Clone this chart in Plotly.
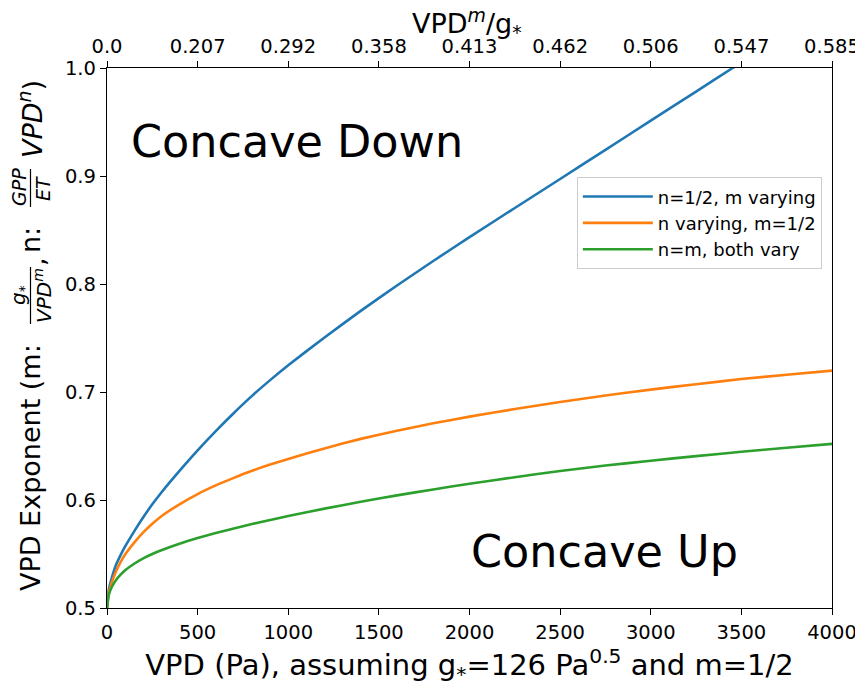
import plotly.graph_objects as go

# ---- data ----
vpd_blue = [0, 10, 25, 50, 75, 100, 150, 200, 250, 300, 400, 500, 600, 700, 800, 900, 1000, 1200,
            1400, 1600, 1800, 2000, 2250, 2500, 2750, 3000, 3250, 3450, 3500]
m_vary = [0.5, 0.517, 0.527, 0.540, 0.549, 0.557, 0.571, 0.584, 0.596, 0.607, 0.627, 0.646, 0.6638,
          0.6806, 0.6964, 0.7110, 0.7248, 0.7505, 0.7751, 0.7986, 0.8213, 0.8434, 0.8704, 0.8972,
          0.9242, 0.9512, 0.9782, 0.9998, 1.0052]

vpd_all = [0, 10, 25, 50, 75, 100, 150, 200, 250, 300, 400, 500, 600, 700, 800, 900, 1000, 1200,
           1400, 1600, 1800, 2000, 2250, 2500, 2750, 3000, 3250, 3500, 3750, 4000]
n_vary = [0.5, 0.514, 0.523, 0.534, 0.5425, 0.5495, 0.5605, 0.570, 0.578, 0.585, 0.596, 0.6055,
          0.6135, 0.6205, 0.627, 0.6328, 0.638, 0.6478, 0.6566, 0.6642, 0.6710, 0.6772, 0.6842,
          0.6907, 0.6967, 0.7022, 0.7072, 0.7120, 0.7160, 0.7198]
both_vary = [0.5, 0.512, 0.519, 0.526, 0.531, 0.535, 0.541, 0.546, 0.550, 0.5535, 0.5595, 0.5647,
             0.5694, 0.5737, 0.5777, 0.5815, 0.5851, 0.592, 0.5984, 0.6043, 0.6098, 0.615, 0.6211,
             0.6269, 0.6319, 0.6364, 0.6406, 0.6446, 0.6484, 0.652]

series_names = ["n=1/2, m varying", "n varying, m=1/2", "n=m, both vary"]
colors = ["#1f77b4", "#ff7f0e", "#2ca02c"]

bottom_ticks = [0, 500, 1000, 1500, 2000, 2500, 3000, 3500, 4000]
bottom_labels = ["0", "500", "1000", "1500", "2000", "2500", "3000", "3500", "4000"]
top_labels = ["0.0", "0.207", "0.292", "0.358", "0.413", "0.462", "0.506", "0.547", "0.585"]

FONT = "DejaVu Sans"
OFF = 8  # page body margin of the browser
W, H = 863 - OFF, 690 - OFF
L, R, T, B = 107 - OFF, 31, 68 - OFF, 82
PW, PH = W - L - R, H - T - B


def px(xp):
    """screen x pixel -> paper coordinate"""
    return (xp - OFF - L) / PW


def py(yp):
    """screen y pixel -> paper coordinate"""
    return (H - B - (yp - OFF)) / PH


fig = go.Figure()
line_kw = dict(width=2.6, shape="spline", smoothing=0.5)
fig.add_trace(go.Scatter(x=vpd_blue, y=m_vary, mode="lines", name=series_names[0],
                         line=dict(color=colors[0], **line_kw)))
fig.add_trace(go.Scatter(x=vpd_all, y=n_vary, mode="lines", name=series_names[1],
                         line=dict(color=colors[1], **line_kw)))
fig.add_trace(go.Scatter(x=vpd_all, y=both_vary, mode="lines", name=series_names[2],
                         line=dict(color=colors[2], **line_kw)))
# invisible trace to activate the top axis
fig.add_trace(go.Scatter(x=[0, 4000], y=[0.5, 0.5], xaxis="x2", mode="lines",
                         line=dict(width=0), opacity=0, showlegend=False, hoverinfo="skip"))

axis_common = dict(showgrid=False, zeroline=False, showline=True, linecolor="black", linewidth=1.4,
                   ticks="outside", ticklen=6, tickwidth=1.2, tickcolor="black", automargin=False,
                   tickfont=dict(family=FONT, size=19.5, color="black"))

fig.update_layout(
    width=W, height=H,
    margin=dict(l=L, r=R, t=T, b=B),
    paper_bgcolor="white", plot_bgcolor="white",
    font=dict(family=FONT, color="black"),
    showlegend=True,
    legend=dict(x=0.986, y=0.7976, xanchor="right", yanchor="top",
                bgcolor="white", bordercolor="#cccccc", borderwidth=1,
                font=dict(family=FONT, size=18, color="black"),
                itemwidth=70, tracegroupgap=0),
    xaxis=dict(range=[0, 4000], tickvals=bottom_ticks, ticktext=bottom_labels, mirror=True,
               title=dict(text="VPD (Pa), assuming g<sub>*</sub>=126 Pa<sup>0.5</sup> and m=1/2",
                          font=dict(family=FONT, size=29), standoff=11),
               **axis_common),
    xaxis2=dict(range=[0, 4000], overlaying="x", side="top", anchor="y",
                tickvals=bottom_ticks, ticktext=top_labels,
                **axis_common),
    yaxis=dict(range=[0.5, 1.0], dtick=0.1, tickformat=".1f", mirror=True, **axis_common),
)

# Top axis title
fig.add_annotation(text="VPD<sup><i>m</i></sup>/g<sub>*</sub>", x=px(467), y=py(23),
                   xref="paper", yref="paper", xanchor="center", yanchor="middle", showarrow=False,
                   font=dict(family=FONT, size=27, color="black"))

# Region labels
fig.add_annotation(text="Concave Down", x=px(129), y=py(141), xref="paper", yref="paper",
                   xanchor="left", yanchor="middle", showarrow=False,
                   font=dict(family=FONT, size=44.5, color="black"))
fig.add_annotation(text="Concave Up", x=px(469), y=py(551), xref="paper", yref="paper",
                   xanchor="left", yanchor="middle", showarrow=False,
                   font=dict(family=FONT, size=44.5, color="black"))


# Y-axis title built from rotated pieces (mimicking the stacked fractions)
def ytext(text, xp, yp, size=26):
    fig.add_annotation(text=text, x=px(xp), y=py(yp), xref="paper", yref="paper",
                       xanchor="center", yanchor="middle", textangle=-90, showarrow=False,
                       font=dict(family=FONT, size=size, color="black"))


ytext("VPD Exponent (m:", 30, 468, 27)
ytext("<i>g</i><sub>*</sub>", 19, 295, 20)
ytext("<i>VPD<sup>m</sup></i>", 43, 296, 20)
ytext(",", 35, 262, 27)
ytext("n:", 30, 240, 27)
ytext("<i>GPP</i>", 19, 187, 19)
ytext("<i>ET</i>", 43, 189, 19)
ytext("<i>VPD<sup>n</sup></i>)", 30, 119, 27)

fig.add_shape(type="line", xref="paper", yref="paper",
              x0=px(30.5), x1=px(30.5), y0=py(267), y1=py(324), line=dict(color="black", width=1.2))
fig.add_shape(type="line", xref="paper", yref="paper",
              x0=px(30.5), x1=px(30.5), y0=py(169), y1=py(207), line=dict(color="black", width=1.2))

fig.write_html("out.html")
